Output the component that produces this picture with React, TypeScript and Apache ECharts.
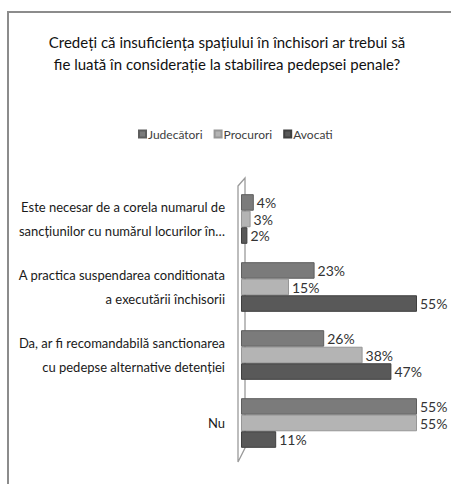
import React, { useEffect, useRef } from "react";
import * as echarts from "echarts";

const categories = [
  "Este necesar de a corela numarul de\nsancțiunilor cu numărul locurilor în…",
  "A practica suspendarea conditionata\na executării închisorii",
  "Da, ar fi recomandabilă sanctionarea\ncu pedepse alternative detenției",
  "Nu",
];
const seriesNames = ["Judecători", "Procurori", "Avocati"];
const judecatori = [4, 23, 26, 55];
const procurori = [3, 15, 38, 55];
const avocati = [2, 55, 47, 11];
const titleText =
  "Credeți că insuficiența spațiului în închisori ar trebui să\nfie luată în considerație la stabilirea pedepsei penale?";

const colors = ["#7b7b7b", "#b4b4b4", "#595959"];
const borders = ["#5e5e5e", "#969696", "#3f3f3f"];
const FONT = "Lato, 'Liberation Sans', sans-serif";

export default function App() {
  const ref = useRef<HTMLDivElement>(null);
  useEffect(() => {
    if (!ref.current) return;
    const chart = echarts.init(ref.current, undefined, { renderer: "svg" });
    const gl = 241, gt = 185, gw = 192, gh = 272;
    const data = [judecatori, procurori, avocati];
    chart.setOption({
      animation: false,
      backgroundColor: "#ffffff",
      title: {
        text: titleText,
        left: 222,
        textAlign: "center",
        top: 26,
        textStyle: { fontFamily: FONT, fontSize: 15, fontWeight: "normal", color: "#111", lineHeight: 22 },
      },
      legend: {
        data: seriesNames,
        top: 123,
        left: 133,
        itemWidth: 7,
        itemHeight: 7,
        itemGap: 11,
        icon: "rect",
        textStyle: { fontFamily: FONT, fontSize: 12, color: "#404040", padding: [0, 0, 0, -3] },
      },
      grid: { left: gl, top: gt, width: gw, height: gh, containLabel: false, outerBoundsMode: "none" },
      xAxis: {
        type: "value",
        min: 0,
        max: 60,
        show: false,
      },
      yAxis: {
        type: "category",
        inverse: true,
        data: categories,
        axisLine: { show: false },
        axisTick: { show: false },
        axisLabel: {
          margin: 16,
          fontFamily: FONT,
          fontSize: 13,
          color: "#1a1a1a",
          lineHeight: 24,
          align: "right",
          padding: [6, 0, 0, 0],
        },
      },
      graphic: [
        {
          type: "rect",
          z: -10,
          shape: { x: 8, y: 12, width: 470, height: 500 },
          style: { fill: "none", stroke: "#8c8c8c", lineWidth: 2 },
          silent: true,
        },
        {
          type: "polygon",
          z: -5,
          shape: { points: [[238, 186], [245, 178], [245, 448], [238, 462]] },
          style: { fill: "#ffffff", stroke: "#9a9a9a", lineWidth: 1.3 },
          silent: true,
        },
      ],
      series: seriesNames.map((name, i) => ({
        name,
        type: "bar",
        data: data[i],
        barGap: "0%",
        barCategoryGap: "27%",
        itemStyle: { color: colors[i], borderColor: borders[i], borderWidth: 1 },
        label: {
          show: true,
          position: "right",
          distance: 3,
          formatter: "{c}%",
          fontFamily: FONT,
          fontSize: 14,
          color: "#333",
        },
      })),
    });
    return () => chart.dispose();
  }, []);
  return <div ref={ref} style={{ position: "fixed", left: 0, top: 0, width: 451, height: 484 }} />;
}
